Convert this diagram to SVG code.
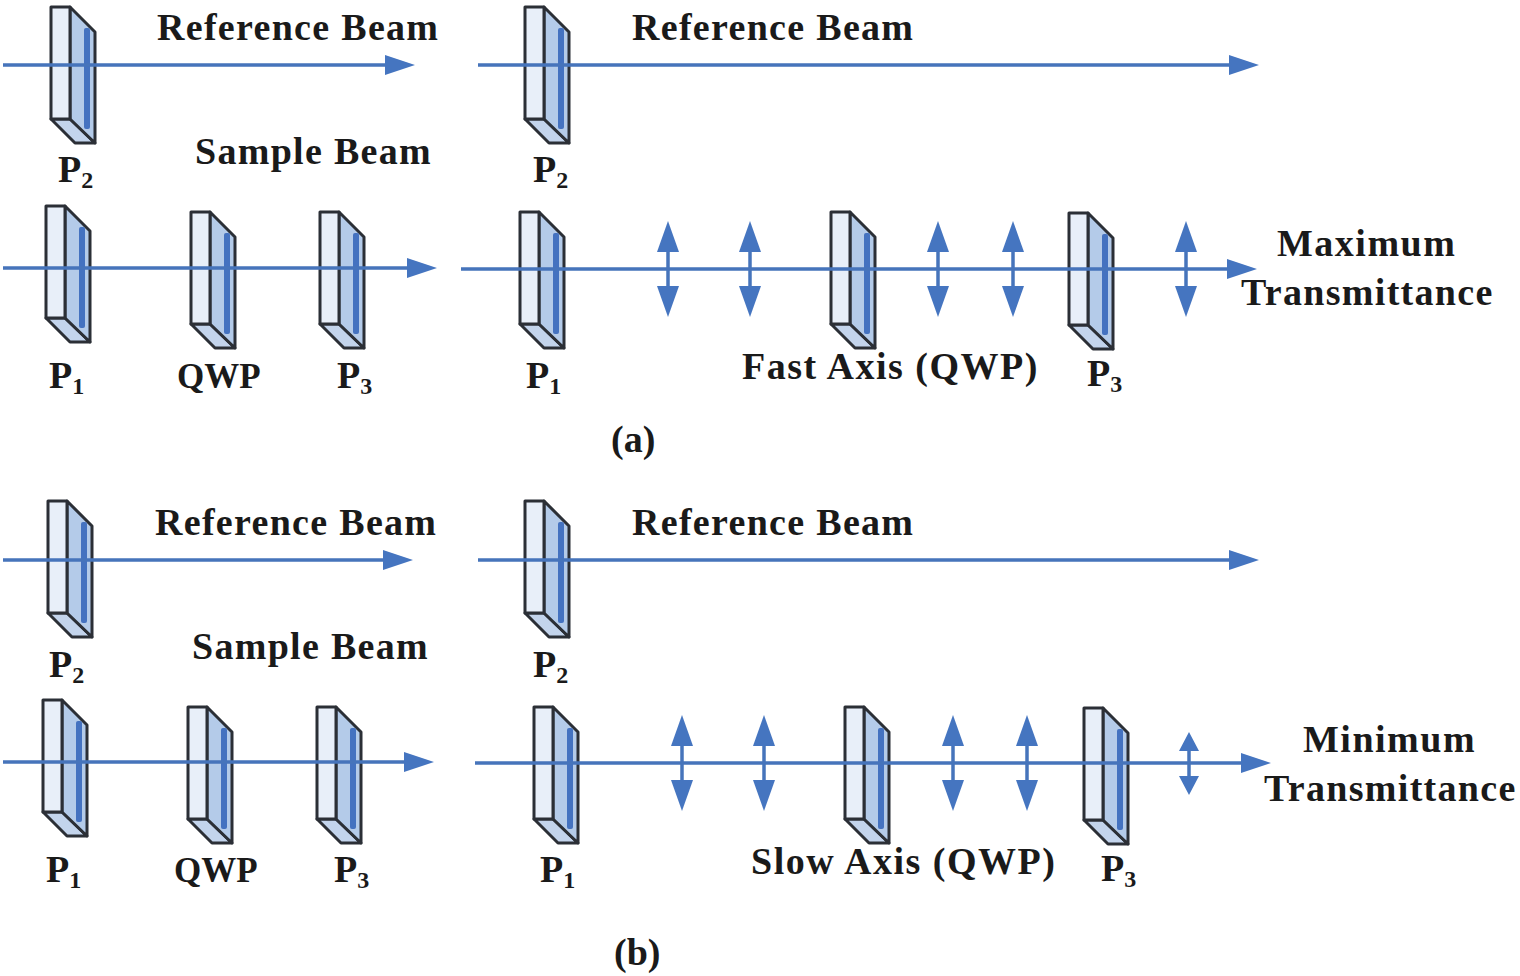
<svg xmlns="http://www.w3.org/2000/svg" width="1520" height="976" viewBox="0 0 1520 976">
<style>
.t{font-family:"Liberation Serif","Times New Roman",serif;font-weight:700;font-size:38px;fill:#1a1a1a}
.w{letter-spacing:1.3px}
.x{letter-spacing:1.5px}
.q{font-size:35px}
.s{font-size:24px}
.l{stroke:#4674bb;stroke-width:3.5;fill:none}
.h{fill:#4575c0}
.e{stroke:#2b2f36;stroke-width:3;stroke-linejoin:round}
</style>
<defs>
<g id="plate">
<path class="e" d="M0 112L19 112L44 136L24 136Z" fill="#c3d4ec"/>
<path class="e" d="M19 0L44 25L44 136L19 112Z" fill="#b4cbe9"/>
<rect x="33" y="21" width="6" height="101" rx="2" fill="#4472c0"/>
<rect class="e" x="0" y="0" width="19" height="112" fill="#e8eff9"/>
</g>
<g id="dbl"><path class="l" d="M0 -20V20"/><path class="h" d="M0 -48L11 -17H-11Z"/><path class="h" d="M0 48L11 17H-11Z"/></g>
</defs>
<g id="plates-a">
<use id="a-ref-p2" href="#plate" x="51" y="7"/>
<use id="a-ref2-p2" href="#plate" x="525" y="7"/>
<use id="a-p1" href="#plate" x="46" y="206"/>
<use id="a-qwp" href="#plate" x="191" y="212"/>
<use id="a-p3" href="#plate" x="320" y="212"/>
<use id="a2-p1" href="#plate" x="520" y="212"/>
<use id="a2-qwp" href="#plate" x="831" y="212"/>
<use id="a2-p3" href="#plate" x="1069" y="213"/>
</g>
<g id="plates-b">
<use id="b-ref-p2" href="#plate" x="48" y="501"/>
<use id="b-ref2-p2" href="#plate" x="525" y="501"/>
<use id="b-p1" href="#plate" x="43" y="700"/>
<use id="b-qwp" href="#plate" x="188" y="707"/>
<use id="b-p3" href="#plate" x="317" y="707"/>
<use id="b2-p1" href="#plate" x="534" y="707"/>
<use id="b2-qwp" href="#plate" x="845" y="707"/>
<use id="b2-p3" href="#plate" x="1084" y="708"/>
</g>
<g id="connectors">
<path class="l" d="M3 65H390M478 65H1234M3 268H412M461 269H1232M3 560H388M478 560H1234M3 762H408M475 763H1246"/>
<path class="h" d="M415 65L385 55V75ZM1259 65L1229 55V75ZM437 268L407 258V278ZM1257 269L1227 259V279ZM413 560L383 550V570ZM1259 560L1229 550V570ZM434 762L404 752V772ZM1271 763L1241 753V773Z"/>
<use href="#dbl" x="668" y="269"/><use href="#dbl" x="750" y="269"/><use href="#dbl" x="938" y="269"/><use href="#dbl" x="1013" y="269"/><use href="#dbl" x="1186" y="269"/>
<use href="#dbl" x="682" y="763"/><use href="#dbl" x="764" y="763"/><use href="#dbl" x="953" y="763"/><use href="#dbl" x="1027" y="763"/>
<path class="l" d="M1189 745V782"/><path class="h" d="M1189 732L1199 751H1179ZM1189 795L1199 776H1179Z"/>
</g>
<g id="labels" class="t">
<text class="w" x="157" y="40">Reference Beam</text>
<text class="w" x="632" y="40">Reference Beam</text>
<text class="w" x="195" y="164">Sample Beam</text>
<text class="w" x="155" y="535">Reference Beam</text>
<text class="w" x="632" y="535">Reference Beam</text>
<text class="w" x="192" y="659">Sample Beam</text>
<text x="58" y="182">P<tspan class="s" dy="6">2</tspan></text>
<text x="533" y="182">P<tspan class="s" dy="6">2</tspan></text>
<text x="49" y="388">P<tspan class="s" dy="6">1</tspan></text>
<text x="177" y="388" class="q">QWP</text>
<text x="337" y="388">P<tspan class="s" dy="6">3</tspan></text>
<text x="526" y="388">P<tspan class="s" dy="6">1</tspan></text>
<text x="1087" y="386">P<tspan class="s" dy="6">3</tspan></text>
<text class="x" x="742" y="379">Fast Axis (QWP)</text>
<text class="x" x="1277" y="256">Maximum</text>
<text class="w" x="1241" y="305">Transmittance</text>
<text x="611" y="452">(a)</text>
<text x="49" y="677">P<tspan class="s" dy="6">2</tspan></text>
<text x="533" y="677">P<tspan class="s" dy="6">2</tspan></text>
<text x="46" y="882">P<tspan class="s" dy="6">1</tspan></text>
<text x="174" y="882" class="q">QWP</text>
<text x="334" y="882">P<tspan class="s" dy="6">3</tspan></text>
<text x="540" y="882">P<tspan class="s" dy="6">1</tspan></text>
<text x="1101" y="881">P<tspan class="s" dy="6">3</tspan></text>
<text class="x" x="751" y="874">Slow Axis (QWP)</text>
<text class="x" x="1303" y="752">Minimum</text>
<text class="w" x="1264" y="801">Transmittance</text>
<text x="614" y="965">(b)</text>
</g>
</svg>
